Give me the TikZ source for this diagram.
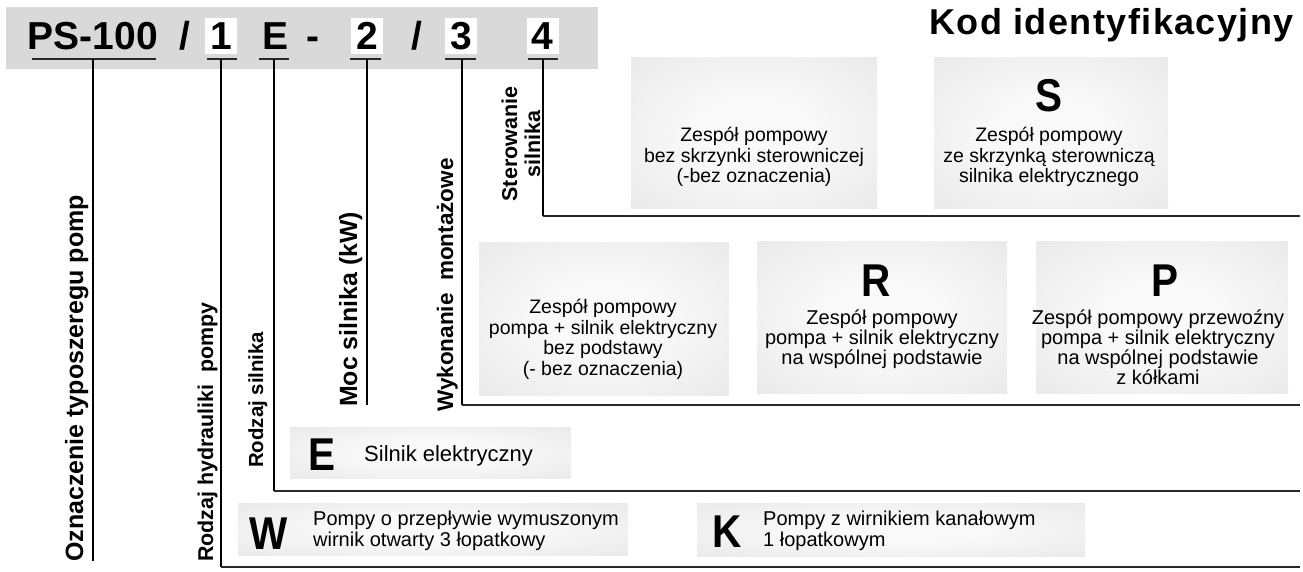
\documentclass[tikz,border=0pt]{standalone}
\usepackage{fontspec}
\setmainfont{Liberation Sans}
\newfontfamily\condfont[FakeStretch=0.88]{Liberation Sans}
\newfontfamily\titlefont[LetterSpace=4]{Liberation Sans}
\definecolor{band}{RGB}{217,217,218}
\definecolor{boxin}{RGB}{249,249,249}
\definecolor{boxout}{RGB}{210,210,211}
\definecolor{lineg}{RGB}{40,40,40}
\pgfdeclareradialshading{boxshade}{\pgfpoint{0bp}{0bp}}{color(0bp)=(boxin); color(12bp)=(boxin); color(72bp)=(boxout)}
\tikzset{
  codech/.style={inner sep=0pt, minimum height=36pt, text height=28pt, text depth=0pt,
                 font=\fontsize{39}{39}\selectfont\bfseries},
  wbox/.style={codech, fill=white, minimum width=32pt},
  uline/.style={line width=1.7pt, draw=lineg},
  vline/.style={line width=1.1pt, draw=black},
  hline/.style={line width=1.8pt, draw=lineg},
  lab/.style={rotate=90, anchor=base west, inner sep=0pt},
  gbox/.style={shade, shading=boxshade, draw=none, inner sep=0pt, anchor=north west},
  bt/.style={align=center, inner sep=0pt, anchor=base, font=\fontsize{19.5}{20.5}\selectfont},
  btb/.style={bt, font=\fontsize{20}{20}\selectfont},
  st/.style={align=left, inner sep=0pt, anchor=base west, font=\fontsize{20}{21}\selectfont},
  big/.style={anchor=base, inner sep=0pt, font=\fontsize{46}{46}\selectfont\condfont\bfseries},
}
\begin{document}
\begin{tikzpicture}[x=1pt,y=-1pt]
\useasboundingbox (0,0) rectangle (1303,572);
% band
\fill[band] (6,7) rectangle (598,69);
% code string
\node[codech] (ps) at (93,36) {PS-100};
\node[codech] (sl1) at (184.5,36) {/};
\node[wbox] (c1) at (221,36) {1};
\node[codech] (cE) at (276,36) {E};
\node[codech] (dash) at (313,36) {-};
\node[wbox] (c2) at (367,36) {2};
\node[codech] (sl2) at (416.5,36) {/};
\node[wbox] (c3) at (461,36) {3};
\node[wbox] (c4) at (542.5,36) {4};
% title
\node[anchor=base east, inner sep=0pt, font=\fontsize{36}{36}\selectfont\titlefont\bfseries] (title) at (1294,35) {Kod identyfikacyjny};
% underline coordinates
\coordinate (psA) at (32,59);  \coordinate (psB) at (156,59); \coordinate (psU) at (93,59);  \coordinate (psD) at (93,561);
\coordinate (c1A) at (207,59); \coordinate (c1B) at (237,59); \coordinate (c1U) at (221,59); \coordinate (c1D) at (221,567); \coordinate (c1R) at (1300,567);
\coordinate (cEA) at (259,59); \coordinate (cEB) at (289,59); \coordinate (cEU) at (274,59); \coordinate (cED) at (274,491); \coordinate (cER) at (1300,491);
\coordinate (c2A) at (350,59); \coordinate (c2B) at (381,59); \coordinate (c2U) at (367,59); \coordinate (c2D) at (367,405);
\coordinate (c3A) at (445,59); \coordinate (c3B) at (476,59); \coordinate (c3U) at (462,59); \coordinate (c3D) at (462,405); \coordinate (c3R) at (1300,405);
\coordinate (c4A) at (528,59); \coordinate (c4B) at (558,59); \coordinate (c4U) at (543,59); \coordinate (c4D) at (543,216); \coordinate (c4R) at (1300,216);
\draw[uline] (psA) -- (psB);
\draw[uline] (c1A) -- (c1B);
\draw[uline] (cEA) -- (cEB);
\draw[uline] (c2A) -- (c2B);
\draw[uline] (c3A) -- (c3B);
\draw[uline] (c4A) -- (c4B);
\draw[vline] (psU) -- (psD);
\draw[vline] (c1U) -- (c1D);
\draw[vline] (cEU) -- (cED);
\draw[vline] (c2U) -- (c2D);
\draw[vline] (c3U) -- (c3D);
\draw[vline] (c4U) -- (c4D);
\draw[hline] ([xshift=-0.5pt]c1D) -- (c1R);
\draw[hline] ([xshift=-0.5pt]cED) -- (cER);
\draw[hline] ([xshift=-0.5pt]c3D) -- (c3R);
\draw[hline] ([xshift=-0.5pt]c4D) -- (c4R);
% rotated labels
\node[lab, font=\fontsize{25}{25}\selectfont\bfseries] (L0) at (83,562) {Oznaczenie typoszeregu pomp};
\node[lab, font=\fontsize{21.4}{21.4}\selectfont\bfseries] (L1) at (213,562) {Rodzaj hydrauliki\ \ pompy};
\node[lab, font=\fontsize{20.4}{20.4}\selectfont\bfseries] (L2) at (263,468) {Rodzaj silnika};
\node[lab, font=\fontsize{24.9}{24.9}\selectfont\bfseries] (L3) at (357,407) {Moc silnika (kW)};
\node[lab, font=\fontsize{22.5}{22.5}\selectfont\bfseries] (L4) at (453,412) {Wykonanie\ \ montażowe};
\node[rotate=90, align=center, inner sep=0pt, font=\fontsize{21.5}{23}\selectfont\bfseries] (L5) at (521,144) {Sterowanie\\silnika};
% boxes
\node[gbox, minimum width=246pt, minimum height=151pt] (bA) at (631,57) {};
\node[gbox, minimum width=234pt, minimum height=151pt] (bS) at (934,57) {};
\node[gbox, minimum width=250pt, minimum height=153pt] (bN) at (479,242) {};
\node[gbox, minimum width=250pt, minimum height=152pt] (bR) at (757,241) {};
\node[gbox, minimum width=252pt, minimum height=152pt] (bP) at (1036,241) {};
\node[gbox, minimum width=281pt, minimum height=51pt] (bE) at (290,427) {};
\node[gbox, minimum width=390pt, minimum height=52pt] (bW) at (238,503) {};
\node[gbox, minimum width=388pt, minimum height=53pt] (bK) at (697,503) {};
% box texts (anchor = baseline of the last line)
\node[bt] (tA) at (754,183) {Zespół pompowy\\bez skrzynki sterowniczej\\(-bez oznaczenia)};
\node[big] (lS) at (1049,112) {S};
\node[bt] (tS) at (1049,183) {Zespół pompowy\\ze skrzynką sterowniczą\\silnika elektrycznego};
\node[bt] (tN) at (603,375) {Zespół pompowy\\pompa + silnik elektryczny\\bez podstawy\\(- bez oznaczenia)};
\node[big] (lR) at (876,296) {R};
\node[btb] (tR) at (882,364) {Zespół pompowy\\pompa + silnik elektryczny\\na wspólnej podstawie};
\node[big] (lP) at (1165,296) {P};
\node[btb] (tP) at (1158,384) {Zespół pompowy przewoźny\\pompa + silnik elektryczny\\na wspólnej podstawie\\z kółkami};
\node[big] (lE) at (321.5,470) {E};
\node[st, font=\fontsize{22}{22}\selectfont] (tE) at (364,461) {Silnik elektryczny};
\node[big] (lW) at (269,549) {W};
\node[st] (tW) at (313,546) {Pompy o przepływie wymuszonym\\wirnik otwarty 3 łopatkowy};
\node[big] (lK) at (727,547) {K};
\node[st] (tK) at (763,546) {Pompy z wirnikiem kanałowym\\1 łopatkowym};
\end{tikzpicture}
\end{document}
